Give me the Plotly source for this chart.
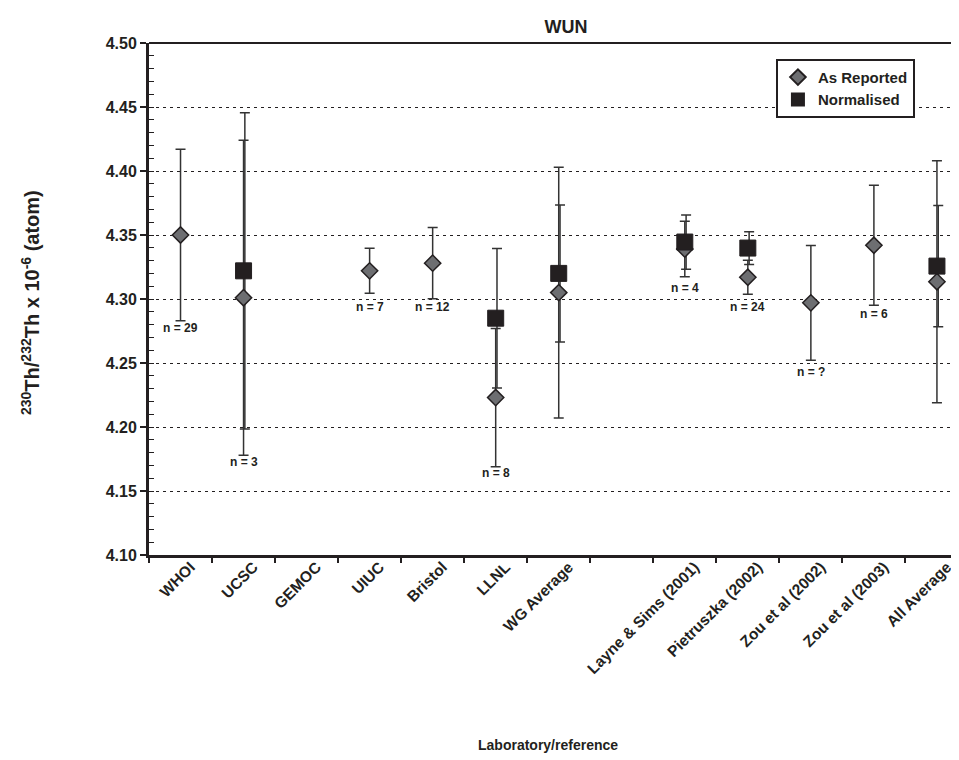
import plotly.graph_objects as go

# ---------------- data ----------------
categories = ["WHOI", "UCSC", "GEMOC", "UIUC", "Bristol", "LLNL", "WG Average", " ",
              "Layne & Sims (2001)", "Pietruszka (2002)", "Zou et al (2002)",
              "Zou et al (2003)", "All Average"]

reported = [4.350, 4.301, None, 4.322, 4.328, 4.223, 4.305, None,
            4.339, 4.317, 4.297, 4.342, 4.3135]
reported_err = [0.067, 0.123, None, 0.0176, 0.0278, 0.054, 0.098, None,
                0.0217, 0.0133, 0.0448, 0.0469, 0.0945]

normalised = [None, 4.322, None, None, None, 4.285, 4.320, None,
              4.3445, 4.3398, None, None, 4.3257]
normalised_err = [None, 0.1235, None, None, None, 0.0545, 0.0535, None,
                  0.0212, 0.0128, None, None, 0.0473]

n_labels = ["n = 29", "n = 3", "", "n = 7", "n = 12", "n = 8", "", "",
            "n = 4", "n = 24", "n = ?", "n = 6", ""]
n_label_y = [4.2776, 4.1724, None, 4.2935, 4.2935, 4.1638, None, None,
             4.3084, 4.2935, 4.2432, 4.2883, None]

y_ticks = [4.10, 4.15, 4.20, 4.25, 4.30, 4.35, 4.40, 4.45, 4.50]

# ---------------- styling ----------------
INK = "#231f20"
GREY = "#6d6e71"
FONT = "Liberation Sans, Arial, sans-serif"
x_range = [-0.5, 12.35]
shift = 1.3 / 63.0  # small offset (in category units) so overlapping bars look heavier

fig = go.Figure()

# reported error bars (on main x axis)
fig.add_trace(go.Scatter(
    x=categories, y=reported, mode="markers", xaxis="x", yaxis="y",
    marker=dict(size=1, color="rgba(0,0,0,0)"), showlegend=False, hoverinfo="skip",
    error_y=dict(type="data", array=reported_err, visible=True,
                 color="#333333", thickness=1.5, width=5)))

# normalised error bars (slightly shifted overlay axis)
fig.add_trace(go.Scatter(
    x=categories, y=normalised, mode="markers", xaxis="x2", yaxis="y",
    marker=dict(size=1, color="rgba(0,0,0,0)"), showlegend=False, hoverinfo="skip",
    error_y=dict(type="data", array=normalised_err, visible=True,
                 color="#333333", thickness=1.5, width=5)))

# markers (top overlay axis)
fig.add_trace(go.Scatter(
    x=categories, y=reported, mode="markers", xaxis="x3", yaxis="y",
    name="As Reported",
    marker=dict(symbol="diamond", size=12.5, color=GREY, line=dict(color=INK, width=1.5))))
fig.add_trace(go.Scatter(
    x=categories, y=normalised, mode="markers", xaxis="x3", yaxis="y",
    name="Normalised",
    marker=dict(symbol="square", size=16, color=INK, line=dict(color=INK, width=1))))

# n = labels
annotations = []
for c, t, yv in zip(categories, n_labels, n_label_y):
    if t and yv is not None:
        annotations.append(dict(x=c, y=yv, xref="x3", yref="y", text="<b>%s</b>" % t,
                                showarrow=False, font=dict(family=FONT, size=12, color=INK),
                                xanchor="center", yanchor="middle"))

# axis titles
annotations.append(dict(x=0.4926, y=-0.371, xref="paper", yref="paper",
                        text="<b>Laboratory/reference</b>", showarrow=False,
                        font=dict(family=FONT, size=14, color=INK),
                        xanchor="center", yanchor="middle"))
annotations.append(dict(x=-0.147, y=0.494, xref="paper", yref="paper",
                        text="<b><sup>230</sup>Th/<sup>232</sup>Th x 10<sup>-6</sup> (atom)</b>",
                        showarrow=False, textangle=-90,
                        font=dict(family=FONT, size=20, color=INK),
                        xanchor="center", yanchor="middle"))

cat_axis_common = dict(type="category", categoryorder="array", categoryarray=categories,
                       range=x_range)

fig.update_layout(
    width=951, height=752,
    margin=dict(l=141, r=0, t=35, b=205),
    plot_bgcolor="white", paper_bgcolor="white",
    font=dict(family=FONT, color=INK),
    title=dict(text="<b>WUN</b>", x=0.5868, xanchor="center", y=0.9747, yanchor="middle",
               font=dict(family=FONT, size=18, color=INK)),
    xaxis=dict(**cat_axis_common, tickson="boundaries", ticks="outside", ticklen=5,
               tickwidth=1.5, tickcolor=INK, tickangle=-45, showline=True, linewidth=3,
               linecolor=INK, showgrid=False, zeroline=False,
               ticklabelshift=10, ticklabelstandoff=-6,
               tickfont=dict(family=FONT, size=15.5, color=INK, weight="bold")),
    xaxis2=dict(type="category", categoryorder="array", categoryarray=categories,
                range=[x_range[0] - shift, x_range[1] - shift],
                overlaying="x", anchor="y", visible=False),
    xaxis3=dict(**cat_axis_common, overlaying="x", anchor="y", visible=False),
    yaxis=dict(range=[4.10, 4.50], tickvals=y_ticks, tickformat=".2f",
               ticks="outside", ticklen=6, tickwidth=1.5, tickcolor=INK,
               showline=True, linewidth=3, linecolor=INK, zeroline=False,
               showgrid=True, gridcolor=INK, gridwidth=1, griddash="3px,4px",
               minor=dict(ticks="inside", dtick=0.01, tick0=4.10, ticklen=5,
                          tickwidth=1.2, tickcolor=INK, showgrid=False),
               tickfont=dict(family=FONT, size=16, color=INK, weight="bold")),
    legend=dict(x=0.774, y=0.969, xanchor="left", yanchor="top",
                bgcolor="white", bordercolor=INK, borderwidth=2,
                font=dict(family=FONT, size=15, color=INK, weight="bold"),
                tracegroupgap=0, itemsizing="constant"),
    annotations=annotations,
    shapes=[dict(type="line", xref="paper", yref="paper", x0=0, x1=1, y0=1, y1=1,
                 line=dict(color=INK, width=2))],
)

fig.write_html("out.html")
